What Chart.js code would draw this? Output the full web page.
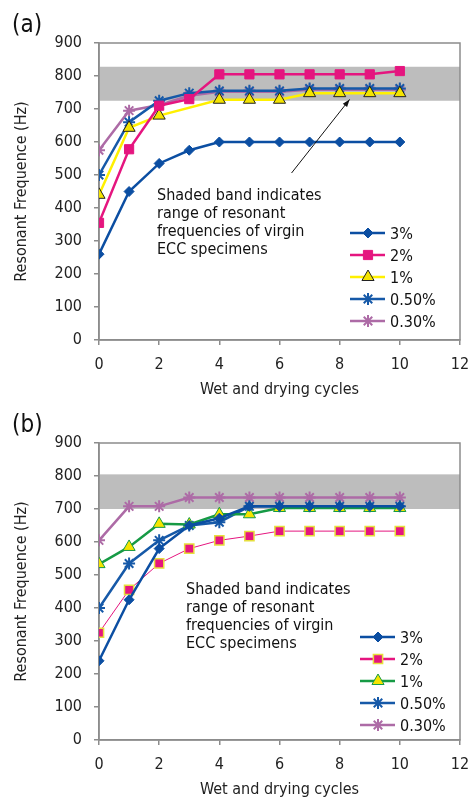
<!DOCTYPE html>
<html>
<head>
<meta charset="utf-8">
<script src="https://cdn.jsdelivr.net/npm/chart.js@4.4.1/dist/chart.umd.min.js"></script>
<style>
  body { margin: 0; background: #fff; }
  .box { position: relative; width: 468px; height: 400px; }
</style>
</head>
<body>
<div class="box"><canvas id="chartA"></canvas></div>
<div class="box"><canvas id="chartB"></canvas></div>
<script>
// data
const cycles = [0, 1, 2, 3, 4, 5, 6, 7, 8, 9, 10];
const seriesNames = ['3%', '2%', '1%', '0.50%', '0.30%'];

const a3  = [260, 450, 535, 575, 600, 600, 600, 600, 600, 600, 600];
const a2  = [355, 578, 710, 730, 805, 805, 805, 805, 805, 805, 815];
const a1  = [440, 643, 680, null, 728, 728, 728, 748, 748, 748, 748];
const a05 = [500, 660, 725, 748, 755, 755, 755, 762, 762, 762, 762];
const a03 = [575, 695, 712, 740, 752, 752, 752, 758, 758, 758, 758];

const b3  = [240, 425, 580, 650, 672, 708, 708, 708, 708, 708, 708];
const b2  = [325, 455, 535, 580, 605, 618, 633, 633, 633, 633, 633];
const b1  = [533, 585, 655, 653, 684, 684, 703, 703, 703, 703, 703];
const b05 = [400, 535, 605, 650, 660, 708, 708, 708, 708, 708, 708];
const b03 = [605, 708, 708, 735, 735, 735, 735, 735, 735, 735, 735];

const bandA = [725, 828];
const bandB = [700, 805];

const xTicks = [0, 2, 4, 6, 8, 10, 12];
const yTicks = [0, 100, 200, 300, 400, 500, 600, 700, 800, 900];

const noteLines = ['Shaded band indicates', 'range of resonant', 'frequencies of virgin', 'ECC specimens'];

const FONT = '"DejaVu Sans Condensed", "Liberation Sans Narrow", sans-serif';
const BLUE = '#0b4ea2';
const MAGENTA = '#e5157f';
const YELLOW = '#fff000';
const GREEN = '#169a45';
const MAUVE = '#ad6ba6';

function series(label, data, color, style, extra) {
  return Object.assign({
    label: label,
    data: data.map((v, i) => ({ x: cycles[i], y: v })),
    borderColor: color,
    backgroundColor: color,
    borderWidth: 2.5,
    pointStyle: style,
    pointRadius: 5,
    pointBackgroundColor: color,
    pointBorderColor: color,
    pointBorderWidth: 1,
    spanGaps: true,
    tension: 0
  }, extra || {});
}

function makeChart(id, datasets, band, panel, note, legendPos, arrow) {
  const overlay = {
    id: 'overlay',
    beforeDatasetsDraw(chart) {
      const { ctx, chartArea, scales } = chart;
      const y1 = scales.y.getPixelForValue(band[1]);
      const y0 = scales.y.getPixelForValue(band[0]);
      ctx.save();
      ctx.fillStyle = '#bdbdbd';
      ctx.fillRect(chartArea.left, y1, chartArea.right - chartArea.left, y0 - y1);
      ctx.strokeStyle = '#8c8c8c';
      ctx.lineWidth = 1.5;
      ctx.strokeRect(chartArea.left, chartArea.top, chartArea.right - chartArea.left, chartArea.bottom - chartArea.top);
      ctx.restore();
    },
    afterDatasetsDraw(chart) {
      const { ctx, scales } = chart;
      ctx.save();
      // note text
      ctx.fillStyle = '#111';
      ctx.font = '16px ' + FONT;
      ctx.textBaseline = 'middle';
      ctx.textAlign = 'left';
      noteLines.forEach((t, i) => ctx.fillText(t, note.x, note.y + i * 18));
      // arrow
      if (arrow) {
        const x0 = scales.x.getPixelForValue(arrow[0]), y0 = scales.y.getPixelForValue(arrow[1]);
        const x1 = scales.x.getPixelForValue(arrow[2]), y1 = scales.y.getPixelForValue(arrow[3]);
        ctx.strokeStyle = '#111';
        ctx.fillStyle = '#111';
        ctx.lineWidth = 1;
        ctx.beginPath();
        ctx.moveTo(x0, y0);
        ctx.lineTo(x1, y1);
        ctx.stroke();
        const ang = Math.atan2(y1 - y0, x1 - x0);
        ctx.beginPath();
        ctx.moveTo(x1, y1);
        ctx.lineTo(x1 - 8 * Math.cos(ang - 0.35), y1 - 8 * Math.sin(ang - 0.35));
        ctx.lineTo(x1 - 8 * Math.cos(ang + 0.35), y1 - 8 * Math.sin(ang + 0.35));
        ctx.closePath();
        ctx.fill();
      }
      // legend
      chart.data.datasets.forEach((d, i) => {
        const y = legendPos.y + i * 22;
        ctx.strokeStyle = d.borderColor;
        ctx.lineWidth = 2.5;
        ctx.beginPath();
        ctx.moveTo(legendPos.x, y);
        ctx.lineTo(legendPos.x + 35, y);
        ctx.stroke();
        ctx.fillStyle = d.pointBackgroundColor;
        ctx.strokeStyle = d.pointBorderColor;
        ctx.lineWidth = d.pointBorderWidth;
        Chart.helpers.drawPoint(ctx, { pointStyle: d.pointStyle, radius: d.pointRadius, rotation: 0, borderWidth: d.pointBorderWidth }, legendPos.x + 18, y);
        ctx.fillStyle = '#111';
        ctx.font = '16px ' + FONT;
        ctx.fillText(d.label, legendPos.x + 40, y + 2);
      });
      // panel label
      ctx.font = '24px ' + FONT;
      ctx.fillText(panel, 12, 26);
      ctx.restore();
    }
  };

  const tickFont = { family: FONT, size: 16 };
  return new Chart(document.getElementById(id), {
    type: 'line',
    data: { datasets: datasets },
    options: {
      responsive: true,
      maintainAspectRatio: false,
      animation: false,
      layout: { padding: { top: 43, right: 8, left: 0, bottom: 0 } },
      plugins: { legend: { display: false }, tooltip: { enabled: false } },
      scales: {
        x: {
          type: 'linear', min: 0, max: 12,
          afterBuildTicks: s => { s.ticks = xTicks.map(v => ({ value: v })); },
          afterFit: s => { s.height = 60; s.paddingLeft = 0; s.paddingRight = 0; },
          grid: { drawOnChartArea: false, tickLength: 5, color: '#8c8c8c', lineWidth: 1.5 },
          border: { color: '#8c8c8c', width: 1.5 },
          ticks: { padding: 10, color: '#222', font: tickFont },
          title: { display: true, text: 'Wet and drying cycles', color: '#222', font: tickFont, padding: { top: 0, bottom: 1 } }
        },
        y: {
          min: 0, max: 900,
          afterBuildTicks: s => { s.ticks = yTicks.map(v => ({ value: v })); },
          afterFit: s => { s.width = 99; s.paddingTop = 0; s.paddingBottom = 0; },
          grid: { drawOnChartArea: false, tickLength: 5, color: '#8c8c8c', lineWidth: 1.5 },
          border: { color: '#8c8c8c', width: 1.5 },
          ticks: { padding: 12, color: '#222', font: tickFont },
          title: { display: true, text: 'Resonant Frequence (Hz)', color: '#222', font: tickFont, padding: { top: 12, bottom: 0 } }
        }
      }
    },
    plugins: [overlay]
  });
}

const starA = { pointRadius: 6, pointBorderWidth: 2 };

makeChart('chartA', [
  series(seriesNames[0], a3, BLUE, 'rectRot', { pointRadius: 5 }),
  series(seriesNames[1], a2, MAGENTA, 'rect', { pointRadius: 6.5 }),
  series(seriesNames[2], a1, YELLOW, 'triangle', { pointRadius: 7, pointBackgroundColor: '#f5e400', pointBorderColor: '#222' }),
  series(seriesNames[3], a05, '#1659a8', 'star', starA),
  series(seriesNames[4], a03, MAUVE, 'star', starA)
], bandA, '(a)', { x: 157, y: 196 }, { x: 350, y: 233 }, [6.4, 506, 8.33, 729]);

makeChart('chartB', [
  series(seriesNames[0], b3, BLUE, 'rectRot', { pointRadius: 5 }),
  series(seriesNames[1], b2, MAGENTA, 'rect', { borderWidth: 1, pointRadius: 6.5, pointBorderColor: '#e6df3c', pointBorderWidth: 1.5 }),
  series(seriesNames[2], b1, GREEN, 'triangle', { pointRadius: 7, pointBackgroundColor: '#f5e400', pointBorderColor: GREEN }),
  series(seriesNames[3], b05, '#1659a8', 'star', starA),
  series(seriesNames[4], b03, MAUVE, 'star', starA)
], bandB, '(b)', { x: 186, y: 190 }, { x: 360, y: 237 }, null);
</script>
</body>
</html>
